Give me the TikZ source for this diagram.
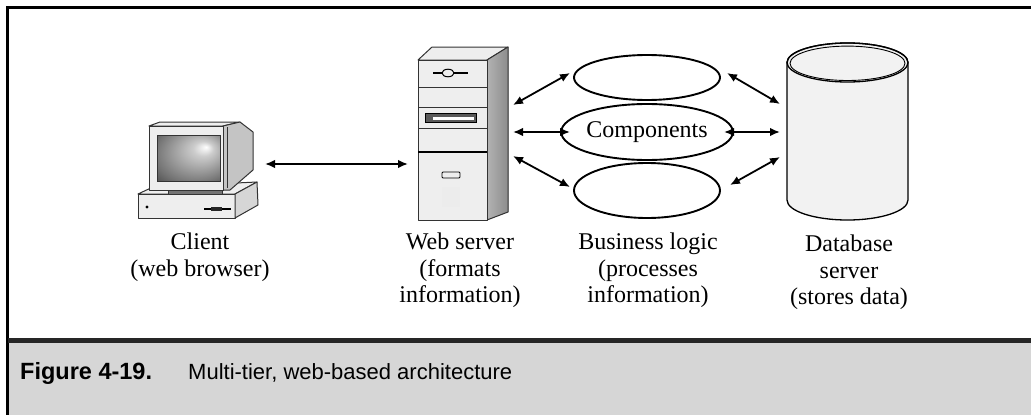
\documentclass[tikz,border=0pt]{standalone}
\usepackage{fontspec}
\setmainfont{Liberation Serif}
\setsansfont{Liberation Sans}
\usetikzlibrary{arrows.meta,shapes.geometric,calc}

\definecolor{capgray}{HTML}{D6D6D6}
\definecolor{face}{HTML}{EEEEEE}
\definecolor{sidegray}{HTML}{C4C4C4}
\definecolor{dbfill}{HTML}{F2F2F2}
\definecolor{edge}{HTML}{333333}

\pgfdeclareradialshading{screenglow}{\pgfpoint{14bp}{12bp}}{%
  color(0bp)=(white);
  color(8bp)=(black!20);
  color(32bp)=(black!55);
  color(50bp)=(black!85)}

\tikzset{
  biarrow/.style={line width=1.8pt, {Latex[length=10pt,width=8.5pt]}-{Latex[length=10pt,width=8.5pt]}},
  hw/.style={draw=edge, line width=1pt, line join=round},
  comp/.style={draw, ellipse, line width=1.9pt, minimum width=146pt, inner sep=0pt,
               font=\fontsize{24}{26.5}\selectfont},
  lbl/.style={anchor=north, align=center, inner sep=0pt, font=\fontsize{24}{26.5}\selectfont},
  frameline/.style={line width=3pt, draw=black}
}

\begin{document}
\begin{tikzpicture}[x=1pt,y=-1pt]
\useasboundingbox (0,0) rectangle (1031,415);

% ---- caption band and frame ----
\fill[capgray] (7.5,340) rectangle (1031,415);
\draw[frameline] (1031,7.5) -- (7.5,7.5) -- (7.5,415);
\draw[line width=5pt, black!85] (7.5,340) -- (1031,340);
\node[anchor=base west, inner sep=0pt, font=\sffamily\bfseries\fontsize{23.5}{26}\selectfont] (fignum) at (20,379) {Figure 4-19.};
\node[anchor=base west, inner sep=0pt, font=\sffamily\fontsize{22}{26}\selectfont] (figtitle) at (188,379) {Multi-tier, web-based architecture};

% ---- client workstation ----
% base unit
\filldraw[hw, fill=face] (138,194) -- (153,187) -- (257,182) -- (235,194) -- cycle;
\filldraw[hw, fill=face] (138,194) rectangle (235,218);
\filldraw[hw, fill=sidegray!70] (235,194) -- (257,182) -- (258,205) -- (235,218) -- cycle;
\fill[black] (147,207) circle (1.6);
\draw[line width=1.2pt] (204,209) -- (231,209);
\fill[black!85] (211,207) rectangle (222,211);
% stand
\filldraw[hw, fill=black!55] (168,189) rectangle (222,194);
% monitor
\filldraw[hw, fill=face] (149,126) -- (160,122) -- (240,122) -- (223,126) -- cycle;
\filldraw[hw, fill=sidegray] (223,126) -- (240,122) -- (253,132) -- (253,170) -- (230,190) -- (223,190) -- cycle;
\draw[edge, line width=0.6pt] (227,127) -- (227,188);
\filldraw[hw, fill=face] (149,126) rectangle (223,190);
\draw[edge, line width=0.8pt, shading=screenglow] (157,135) rectangle (220,181);
\coordinate (client-port) at (265,164);

% ---- web server tower ----
\filldraw[hw, fill=face] (418,60) -- (432,47) -- (508,47) -- (487,60) -- cycle;
\filldraw[hw, left color=black!30, right color=black!45] (487,60) -- (508,47) -- (508,212) -- (487,220) -- cycle;
\filldraw[hw, fill=face] (418,60) rectangle (487,220);
\draw[edge, line width=1pt] (418,87) -- (487,87);
\draw[edge, line width=1pt] (418,107) -- (487,107);
\draw[edge, line width=1pt] (418,128) -- (487,128);
\draw[black, line width=2pt] (418,152) -- (487,152);
% drive bays
\draw[black, line width=2.4pt] (433,73) -- (468,73);
\filldraw[draw=black, fill=face, line width=1pt] (448,73) ellipse (6 and 3.8);
\filldraw[draw=black, fill=black!65, line width=0.8pt] (425,113) rectangle (476,122);
\fill[white] (433,116.5) rectangle (474,119.5);
\filldraw[draw=black, fill=face, line width=0.8pt, rounded corners=1pt] (442,172) rectangle (460,178);
\foreach \i in {0,...,8}{
  \foreach \j in {0,...,9}{
    \fill[black!12] (443+2*\i,188+2*\j) circle (0.45);
  }
}
\coordinate (web-port) at (408,164);
\coordinate (web-a) at (513,105);
\coordinate (web-b) at (513,132);
\coordinate (web-c) at (513,156);

% ---- business logic components ----
\node[comp, minimum height=45pt] (comptop) at (647,77.5) {};
\node[comp, minimum height=56pt] (compmid) at (647,132) {Components};
\node[comp, minimum height=55pt] (compbot) at (647,190.5) {};
\coordinate (comp-a-in)  at (570,73);
\coordinate (comp-b-in)  at (570,132);
\coordinate (comp-c-in)  at (570,187);
\coordinate (comp-a-out) at (727,73);
\coordinate (comp-b-out) at (724,132);
\coordinate (comp-c-out) at (730,185);

% ---- database server ----
\filldraw[draw=black, line width=1.3pt, fill=dbfill]
  (787,62.5) -- (787,200) arc[start angle=180, end angle=0, x radius=60.5, y radius=20]
  -- (908,62.5) arc[start angle=0, end angle=-180, x radius=60.5, y radius=19.5] -- cycle;
\draw[black, line width=1.3pt] (847.5,62.5) ellipse (60.5 and 19.5);
\draw[black, line width=0.9pt] (847.5,63.3) ellipse (57.5 and 17.2);
\coordinate (db-a) at (780,104);
\coordinate (db-b) at (780,132);
\coordinate (db-c) at (780,157);

% ---- connectors ----
\draw[biarrow] (client-port) -- (web-port);
\draw[biarrow] (web-a) -- (comp-a-in);
\draw[biarrow] (web-b) -- (comp-b-in);
\draw[biarrow] (web-c) -- (comp-c-in);
\draw[biarrow] (comp-a-out) -- (db-a);
\draw[biarrow] (comp-b-out) -- (db-b);
\draw[biarrow] (comp-c-out) -- (db-c);

% ---- labels ----
\node[lbl] (clientlbl) at (200,233) {Client\\(web browser)};
\node[lbl] (weblbl) at (460,233) {Web server\\(formats\\information)};
\node[lbl] (bizlbl) at (648,233) {Business logic\\(processes\\information)};
\node[lbl] (dblbl) at (849,235) {Database\\server\\(stores data)};
\end{tikzpicture}
\end{document}
